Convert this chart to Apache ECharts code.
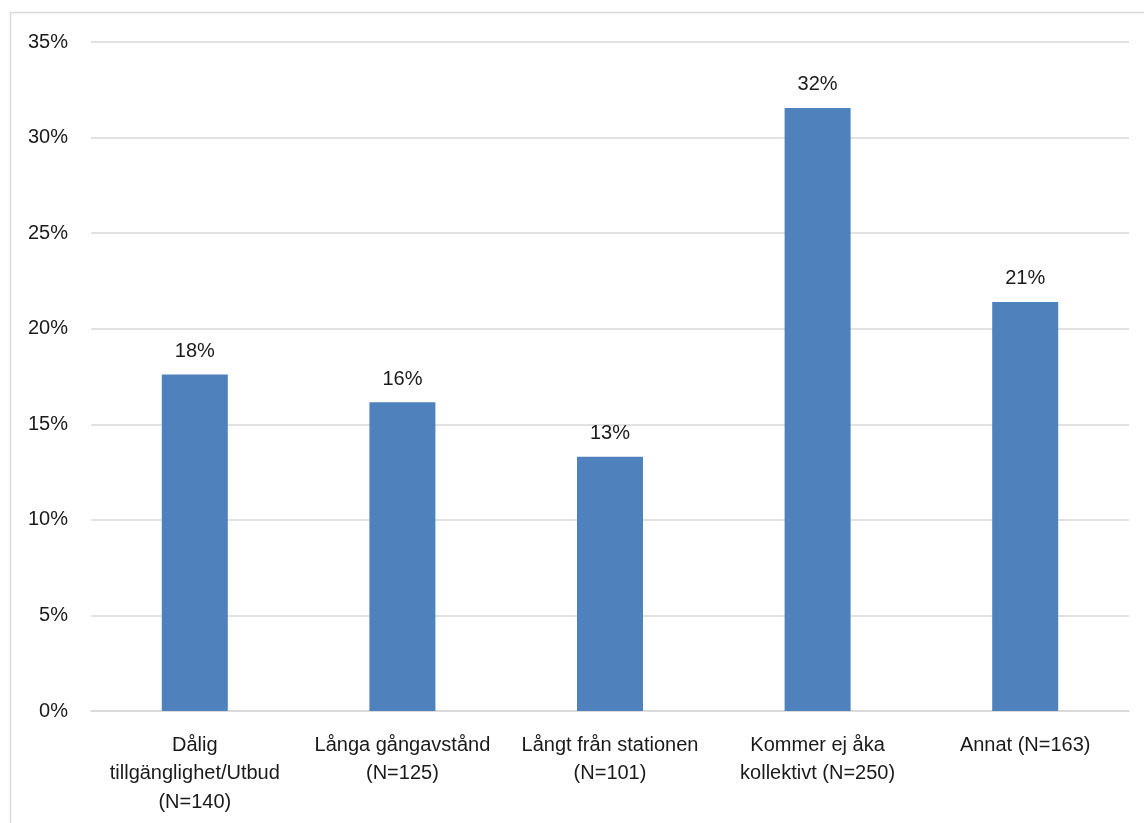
<!DOCTYPE html>
<html>
<head>
<meta charset="utf-8">
<script src="https://cdn.jsdelivr.net/npm/echarts@6/dist/echarts.min.js"></script>
<style>
html,body{margin:0;padding:0;background:#fff;}
#chart{width:1144px;height:823px;}
</style>
</head>
<body>
<div id="chart"></div>
<script>
const categories = [
  "Dålig\ntillgänglighet/Utbud\n(N=140)",
  "Långa gångavstånd\n(N=125)",
  "Långt från stationen\n(N=101)",
  "Kommer ej åka\nkollektivt (N=250)",
  "Annat (N=163)"
];
const values = [17.6, 16.15, 13.3, 31.55, 21.4];
const yTicks = { min: 0, max: 35, interval: 5 };

const chart = echarts.init(document.getElementById('chart'));
const font = 'Liberation Sans, Arial, sans-serif';
chart.setOption({
  animation: false,
  backgroundColor: '#fff',
  graphic: [{
    type: 'rect',
    shape: { x: 10.5, y: 12.5, width: 1200, height: 900 },
    style: { fill: 'none', stroke: '#d9d9d9', lineWidth: 1.5 },
    silent: true, z: -1
  }],
  grid: { left: 91, right: 15, top: 42, bottom: 112, containLabel: false },
  xAxis: {
    type: 'category',
    data: categories,
    axisLine: { show: true, lineStyle: { color: '#d9d9d9', width: 1.5 } },
    axisTick: { show: false },
    axisLabel: {
      interval: 0, color: '#1a1a1a', fontFamily: font, fontSize: 20,
      lineHeight: 28.5, margin: 20
    }
  },
  yAxis: {
    type: 'value',
    min: yTicks.min, max: yTicks.max, interval: yTicks.interval,
    axisLine: { show: false },
    axisTick: { show: false },
    splitLine: { lineStyle: { color: '#d9d9d9', width: 1.5 } },
    axisLabel: {
      color: '#1a1a1a', fontFamily: font, fontSize: 20, margin: 23,
      formatter: v => v + '%'
    }
  },
  series: [{
    type: 'bar',
    data: values,
    barWidth: 66,
    itemStyle: { color: '#4f81bd' },
    label: {
      show: true, position: 'top', distance: 13,
      color: '#1a1a1a', fontFamily: font, fontSize: 20,
      formatter: p => Math.round(p.value) + '%'
    }
  }]
});
</script>
</body>
</html>
